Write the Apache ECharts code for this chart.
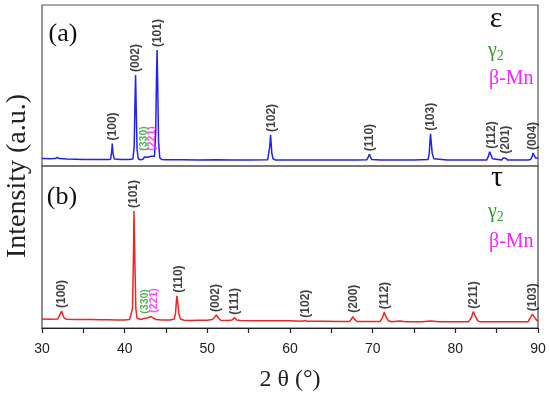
<!DOCTYPE html>
<html>
<head>
<meta charset="utf-8">
<script src="https://cdn.jsdelivr.net/npm/echarts@6/dist/echarts.min.js"></script>
<style>html,body{margin:0;padding:0;background:#fff;}#chart{width:550px;height:398px;}</style>
</head>
<body>
<div id="chart"></div>
<script>
// Axis range / ticks
const xMin = 30, xMax = 90, xStep = 5;
const xTickLabels = [30, 40, 50, 60, 70, 80, 90];

// (a) epsilon pattern [2theta, intensity a.u.]
const epsilonPattern = [
  [30,4.6],[31,4.5],[31.6,4.6],[31.85,5.3],[32.1,4.6],[33,4.3],[34,4.2],[35,4.1],[36,4.1],[37,4.0],[38,4.0],
  [38.3,4.2],[38.43,9],[38.5,14],[38.58,8],[38.75,4.3],[39.5,4.0],[40.5,4.0],[41.0,4.3],
  [41.15,12],[41.25,40],[41.32,56.5],[41.4,35],[41.5,10],[41.65,4.5],[41.9,3.8],
  [42.2,4.2],[42.4,5.6],[42.6,6.0],[42.8,5.4],[43.0,5.6],[43.2,6.0],[43.4,5.5],[43.6,6.0],
  [43.75,20],[43.85,55],[43.92,72],[44.0,50],[44.1,15],[44.25,5],[44.5,4.0],
  [45,3.9],[47,3.9],[49,3.8],[51,3.9],[53,3.8],[55,3.8],[57.3,3.9],
  [57.45,5],[57.55,12],[57.65,19.3],[57.72,14],[57.8,8],[57.95,4.5],[58.2,3.8],
  [60,3.8],[62,3.7],[64,3.8],[66,3.7],[68,3.8],[69.3,3.9],[69.5,6],[69.6,7.3],[69.7,6],[69.9,4.0],
  [71,3.7],[73,3.8],[75,3.7],[76.7,4.0],[76.85,8],[76.95,17],[77.0,20],[77.08,15],[77.2,8],[77.4,4.5],[77.6,3.8],
  [79,3.7],[81,3.7],[83,3.8],[83.8,3.8],[84.0,6],[84.15,8.9],[84.3,7],[84.5,4.5],[84.7,3.7],
  [85.6,3.7],[85.8,5],[85.9,5.8],[86.05,5],[86.3,3.8],[87.5,3.7],[88.8,3.8],
  [89.1,4.0],[89.3,6],[89.4,8.1],[89.55,6.5],[89.7,5],[89.85,6],[90,5]
];

// (b) tau pattern [2theta, intensity a.u.]
const tauPattern = [
  [30,5.5],[31,5.4],[31.9,5.5],[32.1,6.2],[32.25,9],[32.38,10.5],[32.5,8.5],[32.7,6],[33,5.4],
  [34,5.3],[35,5.2],[36,5.2],[37,5.1],[38,5.1],[39,5.0],[40,5.0],
  [40.6,5.2],[40.8,6],[40.95,12],[41.05,40],[41.13,72.2],[41.22,45],[41.35,12],[41.5,6],[41.7,5],
  [42.0,5.3],[42.3,5.8],[42.5,7],[42.7,6.2],[42.9,6.3],[43.2,7.1],[43.5,6],[43.8,5.2],
  [44.5,4.9],[45.5,4.9],[46.0,5.5],[46.15,9],[46.25,16],[46.32,19.9],[46.42,16],[46.55,9],[46.75,5.6],
  [47.2,4.8],[48,4.7],[49,4.8],[50,4.8],[50.6,5.2],[50.85,6.5],[51.1,8],[51.3,6.5],[51.6,4.8],
  [52.5,4.6],[53.0,4.9],[53.3,6.4],[53.55,5],[54,4.6],[56,4.5],[58,4.5],[60,4.4],
  [61.5,4.2],[61.8,4.6],[62.1,4.1],[64,4.1],[66,4.0],
  [67.2,4.0],[67.45,5.5],[67.6,7],[67.8,5.5],[68.1,4.0],[70,4.0],
  [70.9,4.0],[71.2,6.5],[71.4,9.7],[71.6,7],[71.9,4.5],[72.3,3.9],[73.3,4.3],[74,3.9],
  [76,3.9],[77,4.3],[78,3.9],[80,3.8],[81.6,3.9],[81.95,6.5],[82.17,10.1],[82.35,8],[82.7,4.5],[83,3.8],
  [85,3.8],[87,3.8],[88.8,3.9],[89.1,6.5],[89.3,8.5],[89.5,7.5],[89.8,5],[90,4.2]
];

// Peak labels: text, 2theta position, label base height
const epsLabelText = ['(100)','(002)','(101)','(330)','(221)','(102)','(110)','(103)','(112)','(201)','(004)'];
const epsLabelX    = [38.5, 41.33, 43.95, 42.37, 43.27, 57.75, 69.68, 77.05, 84.35, 86.1, 89.4];
const epsLabelY    = [14, 56.5, 72, 7.6, 7.6, 19.3, 7.3, 20, 8.9, 5.8, 8.1];
const epsLabelPhase= ['e','e','e','g','b','e','e','e','e','e','e'];

const tauLabelText = ['(100)','(101)','(330)','(221)','(110)','(002)','(111)','(102)','(200)','(112)','(211)','(103)'];
const tauLabelX    = [32.38, 41.15, 42.46, 43.6, 46.55, 51.05, 53.27, 61.93, 67.66, 71.41, 82.17, 89.3];
const tauLabelY    = [10.5, 72.2, 7.0, 7.6, 19.9, 8, 6.4, 4.5, 7.6, 9.7, 10.1, 8.5];
const tauLabelPhase= ['e','e','g','b','e','e','e','e','e','e','e','e'];

const phaseColor = { e: '#111111', g: '#2f9a2f', b: '#ff22ff' };
const serif = '"Liberation Serif","Times New Roman",serif';
const sans = '"Liberation Sans",Arial,sans-serif';

function labelSeries(idx, texts, xs, ys, phases) {
  return {
    type: 'scatter', xAxisIndex: idx, yAxisIndex: idx, symbolSize: 0, silent: true, z: 5,
    data: xs.map((x, i) => ({
      value: [x, ys[i]],
      label: {
        formatter: texts[i],
        color: phaseColor[phases[i]],
        fontSize: phases[i] === 'e' ? 12 : 10.5
      }
    })),
    label: {
      show: true, position: 'top', distance: 3, rotate: 90,
      align: 'left', verticalAlign: 'middle',
      fontWeight: 'bold', fontFamily: sans
    }
  };
}

const chart = echarts.init(document.getElementById('chart'), null, { renderer: 'canvas' });
chart.setOption({
  animation: false,
  backgroundColor: '#fff',
  grid: [
    { left: 42, right: 12, top: 5, height: 161, show: true, borderColor: '#555', borderWidth: 1.2, backgroundColor: 'transparent' },
    { left: 42, right: 12, top: 166, height: 162, show: true, borderColor: '#444', borderWidth: 1.2, backgroundColor: 'transparent' }
  ],
  xAxis: [
    { gridIndex: 0, type: 'value', min: xMin, max: xMax, interval: xStep,
      axisLine: { show: false }, axisTick: { show: false }, axisLabel: { show: false }, splitLine: { show: false } },
    { gridIndex: 1, type: 'value', min: xMin, max: xMax, interval: xStep,
      axisLine: { show: true, onZero: false, lineStyle: { color: '#222', width: 1.2 } },
      axisTick: { show: true, inside: false, length: 5, lineStyle: { color: '#222', width: 1.2 } },
      axisLabel: { show: true, margin: 14, fontSize: 14, color: '#222', fontFamily: sans,
        formatter: v => (xTickLabels.indexOf(v) >= 0 ? String(v) : '') },
      splitLine: { show: false },
      name: '2 θ (°)', nameLocation: 'middle', nameGap: 40,
      nameTextStyle: { fontSize: 24, color: '#222', fontFamily: serif } }
  ],
  yAxis: [
    { gridIndex: 0, type: 'value', min: 0, max: 100, show: false },
    { gridIndex: 1, type: 'value', min: 0, max: 100, show: false }
  ],
  series: [
    { type: 'line', xAxisIndex: 0, yAxisIndex: 0, data: epsilonPattern, showSymbol: false, symbol: 'none',
      lineStyle: { color: '#2222ee', width: 1.5 }, silent: true },
    { type: 'line', xAxisIndex: 1, yAxisIndex: 1, data: tauPattern, showSymbol: false, symbol: 'none',
      lineStyle: { color: '#f02424', width: 1.5 }, silent: true },
    labelSeries(0, epsLabelText, epsLabelX, epsLabelY, epsLabelPhase),
    labelSeries(1, tauLabelText, tauLabelX, tauLabelY, tauLabelPhase)
  ],
  graphic: [
    { type: 'text', x: 18, y: 176, rotation: Math.PI / 2,
      style: { text: 'Intensity (a.u.)', font: '28px ' + serif, fill: '#222', align: 'center', verticalAlign: 'middle' } },
    { type: 'text', x: 63, y: 34, style: { text: '(a)', font: '26px ' + serif, fill: '#111', align: 'center', verticalAlign: 'middle' } },
    { type: 'text', x: 62, y: 197, style: { text: '(b)', font: '26px ' + serif, fill: '#111', align: 'center', verticalAlign: 'middle' } },
    { type: 'text', x: 496, y: 19, style: { text: 'ε', font: '30px ' + serif, fill: '#111', align: 'center', verticalAlign: 'middle' } },
    { type: 'text', x: 497, y: 178, style: { text: 'τ', font: '30px ' + serif, fill: '#111', align: 'center', verticalAlign: 'middle' } },
    { type: 'text', x: 488, y: 51,
      style: { text: '{g|γ}{s|2}', align: 'left', verticalAlign: 'middle',
        rich: { g: { fontSize: 20, fontFamily: serif, fill: '#2f9a2f', color: '#2f9a2f' },
                s: { fontSize: 14, fontFamily: serif, color: '#2f9a2f', fill: '#2f9a2f', padding: [10, 0, 0, 0] } } } },
    { type: 'text', x: 489, y: 79, style: { text: 'β-Mn', font: '20px ' + serif, fill: '#ff22ff', align: 'left', verticalAlign: 'middle' } },
    { type: 'text', x: 488, y: 212,
      style: { text: '{g|γ}{s|2}', align: 'left', verticalAlign: 'middle',
        rich: { g: { fontSize: 20, fontFamily: serif, fill: '#2f9a2f', color: '#2f9a2f' },
                s: { fontSize: 14, fontFamily: serif, color: '#2f9a2f', fill: '#2f9a2f', padding: [10, 0, 0, 0] } } } },
    { type: 'text', x: 489, y: 242, style: { text: 'β-Mn', font: '20px ' + serif, fill: '#ff22ff', align: 'left', verticalAlign: 'middle' } }
  ]
});
</script>
</body>
</html>
